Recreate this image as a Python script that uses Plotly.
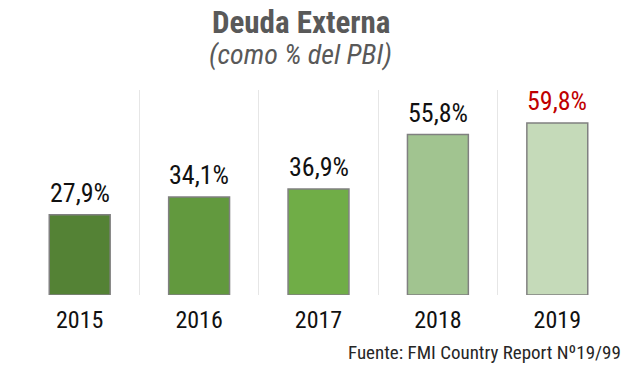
import plotly.graph_objects as go

years = ["2015", "2016", "2017", "2018", "2019"]
values = [27.9, 34.1, 36.9, 55.8, 59.8]
bar_colors = ["#548235", "#62993E", "#70AD47", "#A1C490", "#C5DAB9"]
label_colors = ["#111111", "#111111", "#111111", "#111111", "#C00000"]

FONT = "Roboto Condensed, Liberation Sans Narrow, Roboto, sans-serif"

labels = [f"{v:.1f}".replace(".", ",") + "%" for v in values]

fig = go.Figure()
fig.add_trace(go.Bar(
    x=years, y=values,
    marker=dict(color=bar_colors, line=dict(color="#808080", width=1.5)),
    hoverinfo="skip",
))

for i, (v, lab, c) in enumerate(zip(values, labels, label_colors)):
    fig.add_annotation(x=i, y=v, text=lab, showarrow=False, yanchor="bottom",
                       yshift=5, font=dict(family=FONT, size=26, color=c))

fig.add_annotation(xref="paper", yref="paper", x=0.47, y=1.0, yshift=68, yanchor="middle",
                   text="<b>Deuda Externa</b>",
                   showarrow=False, font=dict(family=FONT, size=31, color="#595959"))
fig.add_annotation(xref="paper", yref="paper", x=0.47, y=1.0, yshift=36, yanchor="middle",
                   text="<i>(como % del PBI)</i>",
                   showarrow=False, font=dict(family=FONT, size=28, color="#595959"))
fig.add_annotation(xref="paper", yref="paper", x=1.01, y=0, yshift=-57, xanchor="right",
                   yanchor="middle",
                   text="Fuente: FMI Country Report Nº19/99",
                   showarrow=False, font=dict(family=FONT, size=19, color="#262626"))

fig.update_layout(
    width=630, height=366,
    margin=dict(l=12, r=21, t=82, b=79, autoexpand=False),
    paper_bgcolor="white", plot_bgcolor="white",
    bargap=0.49, showlegend=False,
    xaxis=dict(type="category", range=[-0.5, 4.5], tickson="boundaries", showgrid=True,
               gridcolor="#E6E6E6", gridwidth=1, ticks="", showline=False, zeroline=False,
               ticklabelstandoff=8, tickangle=0, automargin=False,
               tickfont=dict(family=FONT, size=24, color="#111111")),
    yaxis=dict(range=[0, 71.3], visible=False, showgrid=False),
)

fig.write_html("out.html")
